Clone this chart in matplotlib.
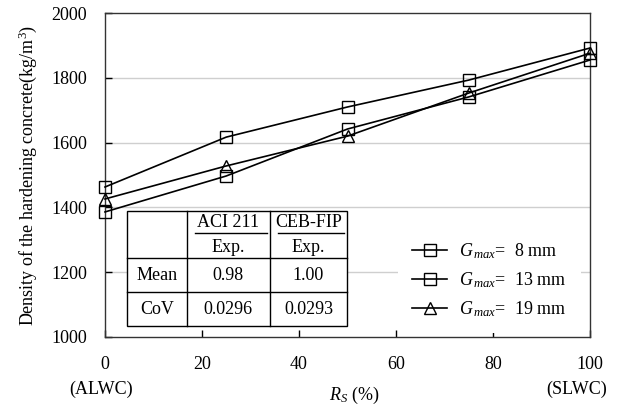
import matplotlib
matplotlib.use("Agg")
import matplotlib.pyplot as plt
from matplotlib.patches import Rectangle


# ----------------------------
# Data
# ----------------------------

rs = [0, 25, 50, 75, 100]
g8 = [1463, 1617, 1710, 1793, 1892]
g13 = [1386, 1497, 1642, 1741, 1855]
g19 = [1426, 1528, 1620, 1753, 1876]

series_labels = [r"$G_{\,max}$=  8 mm", r"$G_{\,max}$=  13 mm", r"$G_{\,max}$=  19 mm"]

x_ticks = [0, 20, 40, 60, 80, 100]
y_ticks = [1000, 1200, 1400, 1600, 1800, 2000]

table_cols = ["ACI 211", "CEB-FIP"]
table_sub = ["Exp.", "Exp."]
table_rows = ["Mean", "CoV"]
table_mean = ["0.98", "1.00"]
table_cov = ["0.0296", "0.0293"]


# ----------------------------
# Style
# ----------------------------

plt.rcParams["font.family"] = ["Liberation Serif", "DejaVu Serif"]
plt.rcParams["font.size"] = 13
plt.rcParams["mathtext.fontset"] = "custom"
plt.rcParams["mathtext.rm"] = "Liberation Serif"
plt.rcParams["mathtext.it"] = "Liberation Serif:italic"

fig = plt.figure(figsize=(6.25, 4.07), dpi=100)
ax = fig.add_axes([0.168, 0.172, 0.776, 0.796])

# ----------------------------
# Lines
# ----------------------------

mk = dict(color="black", lw=1.2, markersize=8, markerfacecolor="none",
          markeredgewidth=1.0, clip_on=False, zorder=3)
ax.plot(rs, g8, marker="s", label=series_labels[0], **mk)
ax.plot(rs, g13, marker="s", label=series_labels[1], **mk)
ax.plot(rs, g19, marker="^", label=series_labels[2], **mk)

ax.set_xlim(0, 100)
ax.set_ylim(1000, 2000)
ax.set_xticks(x_ticks)
ax.set_yticks(y_ticks)
ax.tick_params(direction="in", length=5, width=1, colors="black")
ax.tick_params(axis="x", pad=14)
ax.tick_params(axis="y", pad=13)

for yv in y_ticks[1:-1]:
    ax.axhline(yv, color="#cfcfcf", lw=1.0, zorder=0)

for s in ax.spines.values():
    s.set_color("#333333")
    s.set_linewidth(1.0)

ax.set_ylabel("Density of the hardening concrete(kg/m$^3$)")
ax.yaxis.set_label_coords(-0.137, 0.5)
ax.set_xlabel(r"$R_S$ (%)")
ax.xaxis.set_label_coords(0.515, -0.148)

ax.text(-0.008, -0.162, "(ALWC)", transform=ax.transAxes, ha="center", va="center")
ax.text(0.973, -0.162, "(SLWC)", transform=ax.transAxes, ha="center", va="center")


# ----------------------------
# Inset table
# ----------------------------

tx = [0.0454, 0.169, 0.340, 0.499]
ty = [0.389, 0.244, 0.139, 0.034]
T = ax.transAxes

ax.add_patch(Rectangle((tx[0], ty[3]), tx[3] - tx[0], ty[0] - ty[3], transform=T,
                       facecolor="white", edgecolor="black", lw=1.0, zorder=4))
for xv in tx[1:3]:
    ax.plot([xv, xv], [ty[3], ty[0]], transform=T, color="black", lw=1.0, zorder=5)
for yv in ty[1:3]:
    ax.plot([tx[0], tx[3]], [yv, yv], transform=T, color="black", lw=1.0, zorder=5)

for i in range(2):
    xc = (tx[i + 1] + tx[i + 2]) / 2
    ax.text(xc, 0.352, table_cols[i], transform=T, ha="center", va="center", zorder=6)
    ax.plot([tx[i + 1] + 0.017, tx[i + 2] - 0.006], [0.321, 0.321], transform=T,
            color="black", lw=1.0, zorder=6)
    ax.text(xc, 0.275, table_sub[i], transform=T, ha="center", va="center", zorder=6)
    ax.text(xc, 0.191, table_mean[i], transform=T, ha="center", va="center", zorder=6)
    ax.text(xc, 0.086, table_cov[i], transform=T, ha="center", va="center", zorder=6)

xr = (tx[0] + tx[1]) / 2
ax.text(xr, 0.191, table_rows[0], transform=T, ha="center", va="center", zorder=6)
ax.text(xr, 0.086, table_rows[1], transform=T, ha="center", va="center", zorder=6)


# ----------------------------
# Legend
# ----------------------------

leg = ax.legend(loc="center left", bbox_to_anchor=(0.604, 0.176), frameon=True,
                fancybox=False, edgecolor="none", facecolor="white", framealpha=1,
                handlelength=1.9, handletextpad=0.7, labelspacing=0.52,
                borderpad=0.8, borderaxespad=0, fontsize=13)
leg.set_zorder(4)

fig.savefig("out.png", dpi=100)
